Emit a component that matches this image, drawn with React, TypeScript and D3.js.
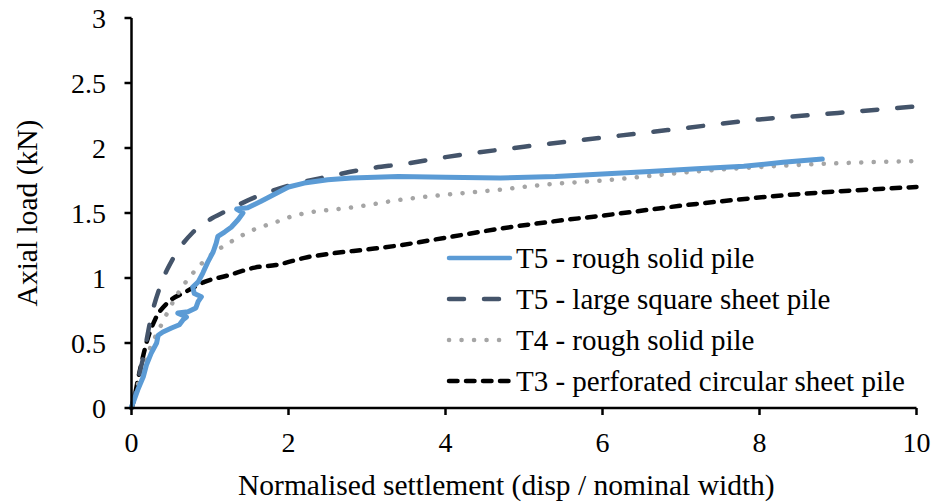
import React from "react";
import * as d3 from "d3";

type Pt = [number, number];

const xTicks = [0, 2, 4, 6, 8, 10];
const yTicks = [0, 0.5, 1, 1.5, 2, 2.5, 3];

const t5RoughSolid: Pt[] = [
  [0, 0.01], [0.02, 0.04], [0.08, 0.14], [0.15, 0.24], [0.19, 0.33], [0.25, 0.42],
  [0.32, 0.5], [0.34, 0.56], [0.4, 0.585], [0.51, 0.615], [0.61, 0.64], [0.66, 0.68],
  [0.7, 0.7], [0.59, 0.73], [0.72, 0.74], [0.82, 0.77], [0.85, 0.82], [0.89, 0.855],
  [0.8, 0.88], [0.78, 0.93], [0.85, 0.97], [0.91, 1.04], [0.97, 1.12], [1.04, 1.2],
  [1.08, 1.27], [1.1, 1.32], [1.19, 1.355], [1.27, 1.39], [1.36, 1.45], [1.42, 1.5],
  [1.34, 1.53], [1.48, 1.54], [1.65, 1.59], [1.84, 1.65], [2.0, 1.7], [2.2, 1.73],
  [2.5, 1.755], [2.8, 1.77], [3.4, 1.78], [4.0, 1.775], [4.7, 1.77], [5.4, 1.78],
  [6.0, 1.8], [6.6, 1.82], [7.2, 1.84], [7.8, 1.86], [8.3, 1.89], [8.8, 1.915],
];

const t5LargeSquare: Pt[] = [
  [0, 0], [0.04, 0.11], [0.15, 0.39], [0.25, 0.7], [0.38, 0.96], [0.53, 1.15],
  [0.78, 1.35], [1.0, 1.45], [1.19, 1.51], [1.57, 1.62], [2.0, 1.71],
  [2.5, 1.78], [3.0, 1.84], [3.5, 1.88], [4.0, 1.93], [5.0, 2.01], [6.0, 2.08],
  [7.0, 2.15], [8.0, 2.22], [9.0, 2.27], [10.0, 2.32],
];

const t4RoughSolid: Pt[] = [
  [0, 0], [0.08, 0.18], [0.23, 0.45], [0.38, 0.64], [0.59, 0.88], [0.8, 1.05],
  [1.02, 1.18], [1.27, 1.28], [1.55, 1.37], [1.84, 1.43], [2.02, 1.47],
  [2.32, 1.51], [2.63, 1.53], [3.0, 1.56], [3.4, 1.6], [4.0, 1.64], [4.7, 1.68],
  [5.3, 1.72], [6.0, 1.75], [7.2, 1.82], [8.5, 1.87], [10.0, 1.9],
];

const t3Perforated: Pt[] = [
  [0, 0], [0.02, 0.04], [0.1, 0.27], [0.19, 0.5], [0.3, 0.68], [0.46, 0.81],
  [0.68, 0.89], [0.93, 0.97], [1.23, 1.02], [1.57, 1.08], [1.84, 1.1],
  [2.24, 1.16], [2.57, 1.19], [3.0, 1.22], [3.4, 1.25],
  [4.0, 1.31], [4.7, 1.38], [5.3, 1.43], [6.0, 1.48], [7.2, 1.57], [8.5, 1.645],
  [10.0, 1.7],
];

const seriesNames = [
  "T5 - rough solid pile",
  "T5 - large square sheet pile",
  "T4 - rough solid pile",
  "T3 - perforated circular sheet pile",
];

const W = 932;
const H = 504;
const M = { left: 131.5, right: 15.5, top: 18, bottom: 96 };
const FONT = "'Liberation Serif', 'Times New Roman', serif";

export default function App() {
  const x = d3.scaleLinear().domain([0, 10]).range([M.left, W - M.right]);
  const y = d3.scaleLinear().domain([0, 3]).range([H - M.bottom, M.top]);
  const line = d3
    .line<Pt>()
    .x((d) => x(d[0]))
    .y((d) => y(d[1]))
    .curve(d3.curveLinear);
  const smooth = d3
    .line<Pt>()
    .x((d) => x(d[0]))
    .y((d) => y(d[1]))
    .curve(d3.curveMonotoneX);

  const styles = [
    { stroke: "#5B9BD5", dash: undefined as string | undefined, cap: "round" },
    { stroke: "#44546A", dash: "15 20", cap: "round" },
    { stroke: "#A5A5A5", dash: "0.1 12.4", cap: "round" },
    { stroke: "#000000", dash: "8.5 8.5", cap: "round" },
  ];
  const data = [t5RoughSolid, t5LargeSquare, t4RoughSolid, t3Perforated];

  const legendX = 447;
  const legendY0 = 258;
  const legendDy = 41;

  return (
    <svg width={W} height={H} style={{ display: "block", position: "absolute", left: 0, top: 0 }}>
      <rect width={W} height={H} fill="#fff" />
      {data.map((d, i) => (
        <path
          key={i}
          d={(i === 0 ? line(d) : smooth(d)) || ""}
          fill="none"
          stroke={styles[i].stroke}
          strokeWidth={i === 0 ? 5 : 4.5}
          strokeDasharray={styles[i].dash}
          strokeLinecap={styles[i].cap as any}
          strokeLinejoin="round"
        />
      )).reverse()}
      <line x1={x(0)} x2={x(10)} y1={y(0)} y2={y(0)} stroke="#000" strokeWidth={2.5} />
      <line x1={x(0)} x2={x(0)} y1={y(0)} y2={y(3)} stroke="#000" strokeWidth={2.5} />
      {xTicks.map((t) => (
        <g key={"x" + t}>
          <line x1={x(t)} x2={x(t)} y1={y(0)} y2={y(0) + 7} stroke="#000" strokeWidth={2.5} />
          <text x={x(t)} y={452} textAnchor="middle" fontFamily={FONT} fontSize={28}>
            {t}
          </text>
        </g>
      ))}
      {yTicks.map((t) => (
        <g key={"y" + t}>
          <line x1={x(0) - 7} x2={x(0)} y1={y(t)} y2={y(t)} stroke="#000" strokeWidth={2.5} />
          <text x={106} y={y(t)} dy="0.35em" textAnchor="end" fontFamily={FONT} fontSize={28}>
            {t}
          </text>
        </g>
      ))}
      <text x={238} y={495} textAnchor="start" fontFamily={FONT} fontSize={29.5}>
        Normalised settlement (disp / nominal width)
      </text>
      <text
        transform={`translate(37, ${(y(0) + y(3)) / 2}) rotate(-90)`}
        textAnchor="middle"
        fontFamily={FONT}
        fontSize={29.5}
      >
        Axial load (kN)
      </text>
      {seriesNames.map((name, i) => {
        const ly = legendY0 + i * legendDy;
        return (
          <g key={name}>
            <line
              x1={legendX + 2}
              x2={legendX + 63}
              y1={ly}
              y2={ly}
              stroke={styles[i].stroke}
              strokeWidth={4.5}
              strokeDasharray={styles[i].dash}
              strokeLinecap={styles[i].cap as any}
            />
            <text x={516} y={ly} dy="0.35em" fontFamily={FONT} fontSize={29}>
              {name}
            </text>
          </g>
        );
      })}
    </svg>
  );
}
